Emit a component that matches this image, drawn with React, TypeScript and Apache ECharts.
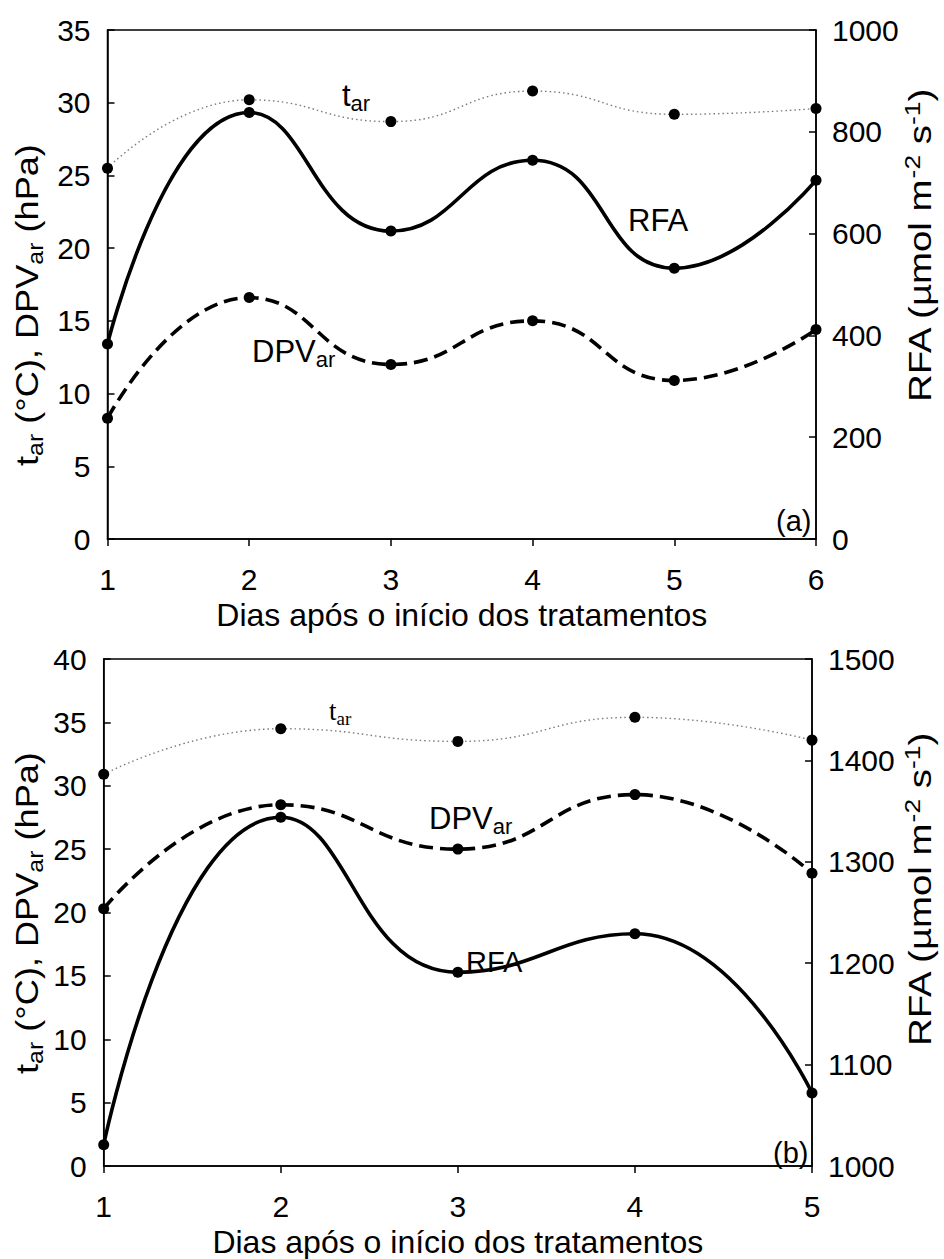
import React, { useEffect, useRef } from "react";
import * as echarts from "echarts";

// Panel (a): six days after the start of the treatments
const daysA = [1, 2, 3, 4, 5, 6];
const tarA = [25.5, 30.2, 28.7, 30.8, 29.2, 29.6];
const dpvA = [8.3, 16.6, 12.0, 15.0, 10.9, 14.4];
const rfaA = [383, 838, 605, 744, 532, 705];

// Panel (b): five days after the start of the treatments
const daysB = [1, 2, 3, 4, 5];
const tarB = [30.9, 34.5, 33.5, 35.4, 33.6];
const dpvB = [20.3, 28.5, 25.0, 29.3, 23.1];
const rfaB = [1021, 1344, 1191, 1229, 1072];

// Axis ranges [min, max, interval]
const leftAxisA = [0, 35, 5];
const rightAxisA = [0, 1000, 200];
const leftAxisB = [0, 40, 5];
const rightAxisB = [1000, 1500, 100];

const xTitle = "Dias após o início dos tratamentos";

const SANS = '"Liberation Sans", Arial, Helvetica, sans-serif';
const SERIF = '"Liberation Serif", "Times New Roman", serif';
const BLACK = "#000";

const pairs = (xs: number[], ys: number[]) => xs.map((x, i) => [x, ys[i]]);

const axisLineStyle = { lineStyle: { color: BLACK, width: 1.5 } };
const tickLabel = {
  color: BLACK,
  fontFamily: SANS,
  fontSize: 30,
  formatter: (v: number) => String(v),
};

function xAxis(gridIndex: number, max: number) {
  return {
    type: "value",
    gridIndex,
    min: 1,
    max,
    interval: 1,
    axisLine: { show: true, ...axisLineStyle },
    axisTick: { show: true, inside: false, length: 7, lineStyle: { color: BLACK, width: 1.5 } },
    axisLabel: { ...tickLabel, margin: 25 },
    splitLine: { show: false },
    name: xTitle,
    nameLocation: "middle",
    nameGap: 60,
    nameTextStyle: { color: BLACK, fontFamily: SANS, fontSize: 32 },
  };
}

function yAxis(gridIndex: number, range: number[], position: "left" | "right") {
  return {
    type: "value",
    gridIndex,
    position,
    min: range[0],
    max: range[1],
    interval: range[2],
    axisLine: { show: true, onZero: false, ...axisLineStyle },
    axisTick: { show: true, inside: true, length: 7, lineStyle: { color: BLACK, width: 1.5 } },
    axisLabel: { ...tickLabel, margin: position === "left" ? 17 : 16 },
    splitLine: { show: false },
  };
}

function series(
  data: number[][],
  xAxisIndex: number,
  yAxisIndex: number,
  lineStyle: Record<string, unknown>
) {
  return {
    type: "line",
    xAxisIndex,
    yAxisIndex,
    data,
    smooth: 0.5,
    symbol: "circle",
    symbolSize: 11,
    itemStyle: { color: BLACK },
    lineStyle,
    z: 3,
  };
}

const dotted = { color: "#7a7a7a", width: 1.4, type: [1.5, 3] };
const solid = { color: BLACK, width: 3.6, type: "solid" };
const dashed = { color: BLACK, width: 3.6, type: [14, 7] };

// rich-text styles for labels with sub/superscripts
function rich(size: number, family: string, lineHeight: number) {
  const small = Math.round(size * 0.7);
  const shift = Math.round(size * 0.5);
  return {
    m: { fontSize: size, fontFamily: family, fill: BLACK, lineHeight },
    s: { fontSize: small, fontFamily: family, fill: BLACK, padding: [shift, 0, 0, 0] },
    u: { fontSize: small, fontFamily: family, fill: BLACK, padding: [0, 0, shift, 0] },
  };
}

function label(
  x: number,
  y: number,
  text: string,
  size: number,
  family: string,
  align: string = "left",
  rotation = 0,
  stretch = 1
) {
  return {
    type: "text",
    x,
    y,
    rotation,
    scaleX: stretch,
    z: 10,
    style: {
      text,
      x: 0,
      y: 0,
      align,
      verticalAlign: rotation ? "middle" : "top",
      rich: rich(size, family, Math.round(size * 1.25)),
    },
  };
}

const leftTitle = "{m|t}{s|ar}{m| (°C), DPV}{s|ar}{m| (hPa)}";
const rightTitle = "{m|RFA (µmol m}{u|-2}{m| s}{u|-1}{m|)}";

const option = {
  animation: false,
  backgroundColor: "#fff",
  grid: [
    { left: 107.5, right: 128, top: 30, height: 509, show: true, borderColor: BLACK, borderWidth: 1.5 },
    { left: 103.7, right: 132, top: 659, height: 509, show: true, borderColor: BLACK, borderWidth: 1.5 },
  ],
  xAxis: [xAxis(0, daysA[daysA.length - 1]), xAxis(1, daysB[daysB.length - 1])],
  yAxis: [
    yAxis(0, leftAxisA, "left"),
    yAxis(0, rightAxisA, "right"),
    yAxis(1, leftAxisB, "left"),
    yAxis(1, rightAxisB, "right"),
  ],
  series: [
    series(pairs(daysA, tarA), 0, 0, dotted),
    series(pairs(daysA, dpvA), 0, 0, dashed),
    series(pairs(daysA, rfaA), 0, 1, solid),
    series(pairs(daysB, tarB), 1, 2, dotted),
    series(pairs(daysB, dpvB), 1, 2, dashed),
    series(pairs(daysB, rfaB), 1, 3, solid),
  ],
  graphic: [
    // axis titles
    label(27, 305, leftTitle, 32, SANS, "center", Math.PI / 2, 1.13),
    label(920, 246, rightTitle, 32, SANS, "center", Math.PI / 2, 1.2),
    label(27, 913, leftTitle, 32, SANS, "center", Math.PI / 2, 1.13),
    label(920, 890, rightTitle, 32, SANS, "center", Math.PI / 2, 1.2),
    // panel (a) annotations
    label(342, 76, "{m|t}{s|ar}", 31, SANS),
    label(628, 201, "{m|RFA}", 31, SANS),
    label(252, 332, "{m|DPV}{s|ar}", 31, SANS),
    label(776, 503, "{m|(a)}", 29, SANS),
    // panel (b) annotations
    label(329, 694, "{m|t}{s|ar}", 27, SERIF),
    label(429, 799, "{m|DPV}{s|ar}", 31, SANS),
    label(466, 944, "{m|RFA}", 29, SANS),
    label(773, 1135, "{m|(b)}", 29, SANS),
  ],
};

export default function App() {
  const ref = useRef<HTMLDivElement>(null);
  useEffect(() => {
    document.body.style.margin = "0";
    const chart = echarts.init(ref.current as HTMLDivElement, null, { renderer: "svg" });
    chart.setOption(option as any);
    return () => chart.dispose();
  }, []);
  return <div ref={ref} style={{ width: 944, height: 1259 }} />;
}
